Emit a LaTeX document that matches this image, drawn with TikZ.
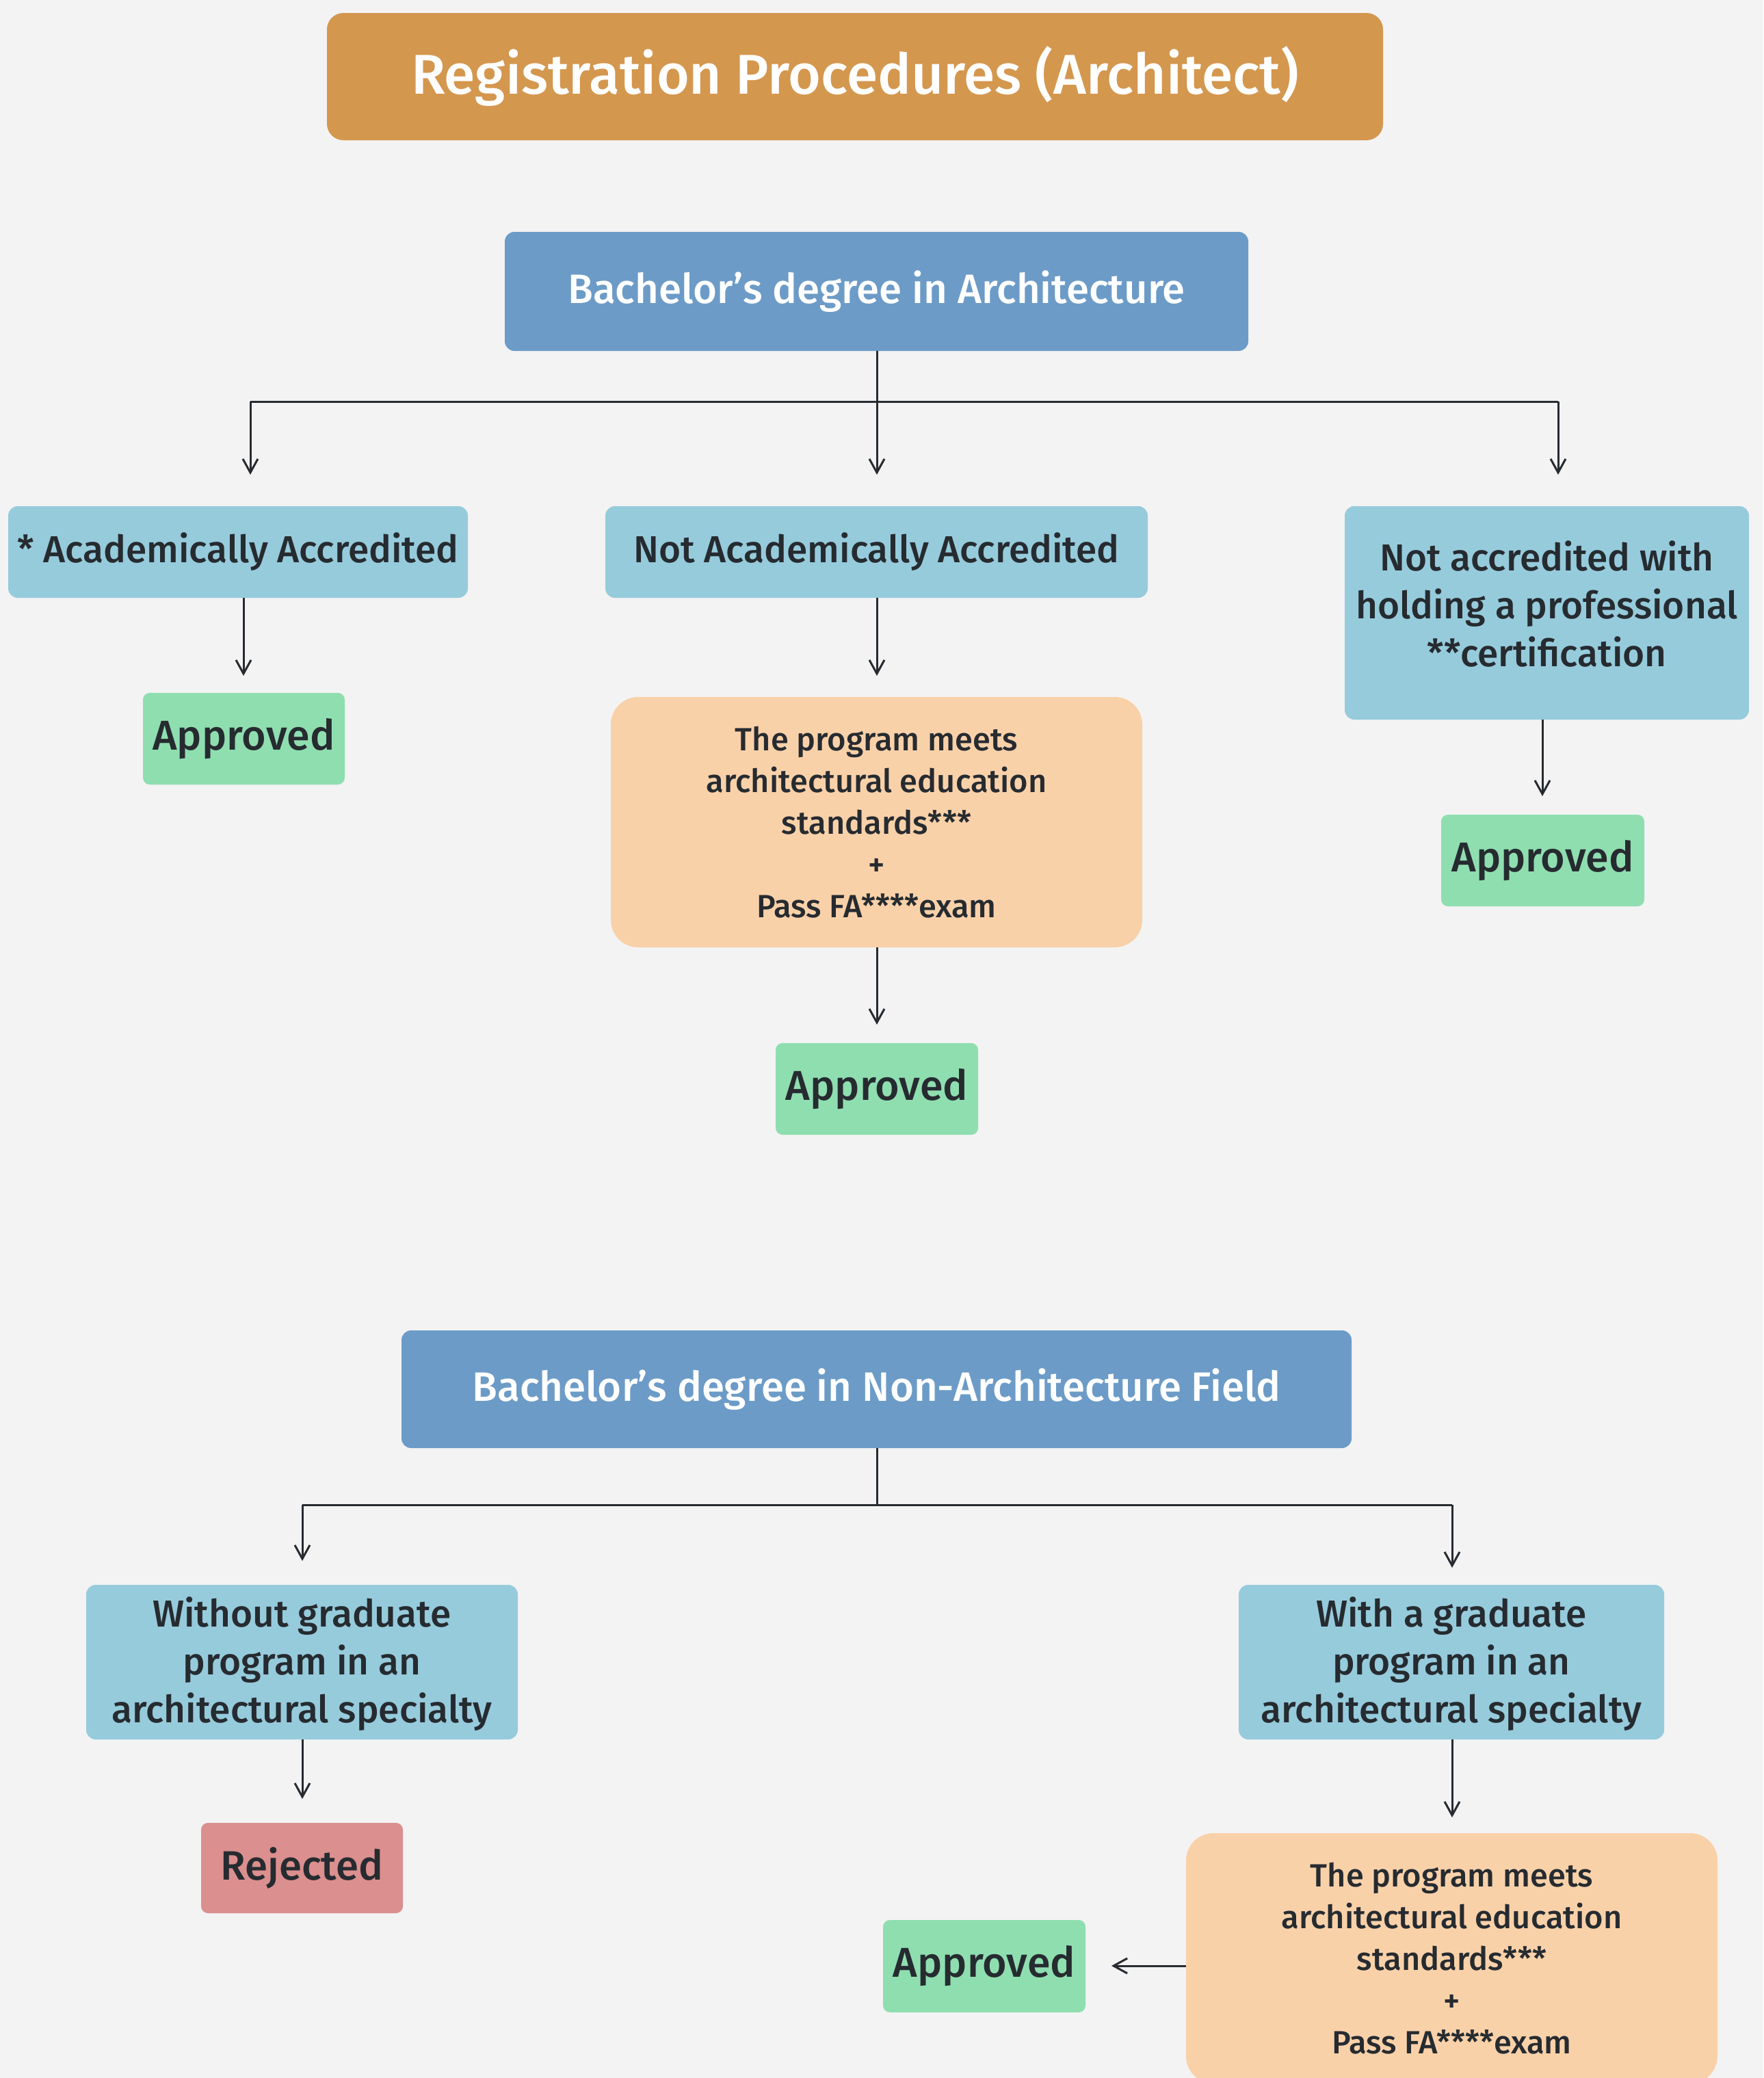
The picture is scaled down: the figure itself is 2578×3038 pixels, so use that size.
\documentclass[tikz,border=0pt]{standalone}
\usepackage{fontspec}
\setmainfont{Fira Sans Medium}
\usetikzlibrary{arrows.meta}
\definecolor{bg}{HTML}{F3F3F3}
\definecolor{titlec}{HTML}{D4974E}
\definecolor{darkblue}{HTML}{6C9BC7}
\definecolor{lightblue}{HTML}{96CBDC}
\definecolor{peach}{HTML}{F9D1A9}
\definecolor{greenc}{HTML}{8FDEB0}
\definecolor{redc}{HTML}{DB8F8E}
\definecolor{ink}{HTML}{262B30}
\tikzset{
  box/.style={rounded corners=14pt, inner sep=0pt, align=center, text=ink},
  titlebox/.style={box, fill=titlec, rounded corners=24pt, text=white, font=\fontsize{82}{94}\selectfont},
  degbox/.style={box, fill=darkblue, text=white, font=\fontsize{60}{72}\selectfont},
  catbox/.style={box, fill=lightblue, font=\fontsize{55}{70}\selectfont},
  catfill/.style={box, fill=lightblue},
  cattext/.style={align=center, inner sep=0pt, text=ink, font=\fontsize{55}{70}\selectfont},
  reqbox/.style={box, fill=peach, rounded corners=40pt, font=\fontsize{47}{61}\selectfont},
  okbox/.style={box, fill=greenc, rounded corners=10pt, font=\fontsize{61}{70}\selectfont},
  nobox/.style={box, fill=redc, rounded corners=10pt, font=\fontsize{60}{70}\selectfont},
  link/.style={draw=ink, line width=3pt},
  arr/.style={link, -{Straight Barb[length=20pt,width=22pt,line width=3pt]}}
}
\begin{document}
\begin{tikzpicture}[x=1pt,y=-1pt]
\useasboundingbox (0,0) rectangle (2578,3038);
\clip (0,0) rectangle (2578,3038);
\fill[bg] (0,0) rectangle (2578,3038);

\node[titlebox, minimum width=1544pt, minimum height=186pt] (title) at (1250,112) {Registration Procedures (Architect)};

\node[degbox, minimum width=1087pt, minimum height=174pt] (bach1) at (1281.5,426) {Bachelor’s degree in Architecture};

\node[catbox, minimum width=672pt, minimum height=134pt] (acc) at (348,807) {* Academically Accredited};
\node[catbox, minimum width=793pt, minimum height=134pt] (nacc) at (1281.5,807) {Not Academically Accredited};
\node[catfill, minimum width=591pt, minimum height=312pt] (cert) at (2261.5,896) {};
\node[cattext] (certtext) at (2261.5,883) {Not accredited with\\holding a professional\\**certification};

\node[okbox, minimum width=295pt, minimum height=134pt] (okA) at (356.5,1080) {Approved};
\node[reqbox, minimum width=777pt, minimum height=366pt] (reqB) at (1281.5,1202) {The program meets\\architectural education\\standards***\\+\\Pass FA****exam};
\node[okbox, minimum width=296pt, minimum height=134pt] (okB) at (1282,1592) {Approved};
\node[okbox, minimum width=297pt, minimum height=134pt] (okC) at (2255.5,1258) {Approved};

\node[degbox, minimum width=1389pt, minimum height=172pt] (bach2) at (1281.5,2031) {Bachelor’s degree in Non-Architecture Field};

\node[catfill, minimum width=631pt, minimum height=226pt] (without) at (441.5,2430) {};
\node[cattext] (withouttext) at (441.5,2433) {Without graduate\\program in an\\architectural specialty};
\node[catfill, minimum width=622pt, minimum height=226pt] (with) at (2122,2430) {};
\node[cattext] (withtext) at (2122,2433) {With a graduate\\program in an\\architectural specialty};

\node[nobox, minimum width=295pt, minimum height=132pt] (rej) at (441.5,2731) {Rejected};
\node[reqbox, minimum width=777pt, minimum height=366pt] (reqR) at (2122.5,2863) {The program meets\\architectural education\\standards***\\+\\Pass FA****exam};
\node[okbox, minimum width=296pt, minimum height=135pt] (okR) at (1439,2874.5) {Approved};

% top tree
\coordinate (j1) at (1282,587);
\coordinate (j1L) at (366,587);
\coordinate (j1R) at (2278,587);
\coordinate (eA) at (366,694);
\coordinate (eB) at (1282,694);
\coordinate (eC) at (2278,694);
\draw[link] (bach1.south -| j1) -- (j1);
\draw[link] (j1L) -- (j1R);
\draw[arr] (j1L) -- (eA);
\draw[arr] (j1) -- (eB);
\draw[arr] (j1R) -- (eC);

\coordinate (eokA) at (356,988);
\coordinate (ereqB) at (1282,988);
\coordinate (eokB) at (1282,1498);
\coordinate (eokC) at (2255,1164);
\draw[arr] (acc.south -| eokA) -- (eokA);
\draw[arr] (nacc.south -| ereqB) -- (ereqB);
\draw[arr] (reqB.south -| eokB) -- (eokB);
\draw[arr] (cert.south -| eokC) -- (eokC);

% bottom tree
\coordinate (j2) at (1282,2200);
\coordinate (j2L) at (442,2200);
\coordinate (j2R) at (2123,2200);
\coordinate (eW) at (442,2282);
\coordinate (eWi) at (2123,2292);
\draw[link] (bach2.south -| j2) -- (j2);
\draw[link] (j2L) -- (j2R);
\draw[arr] (j2L) -- (eW);
\draw[arr] (j2R) -- (eWi);

\coordinate (erej) at (442,2630);
\coordinate (ereqR) at (2123,2657);
\coordinate (eokR) at (1625,2874);
\draw[arr] (without.south -| erej) -- (erej);
\draw[arr] (with.south -| ereqR) -- (ereqR);
\draw[arr] (reqR.west |- eokR) -- (eokR);
\end{tikzpicture}
\end{document}
